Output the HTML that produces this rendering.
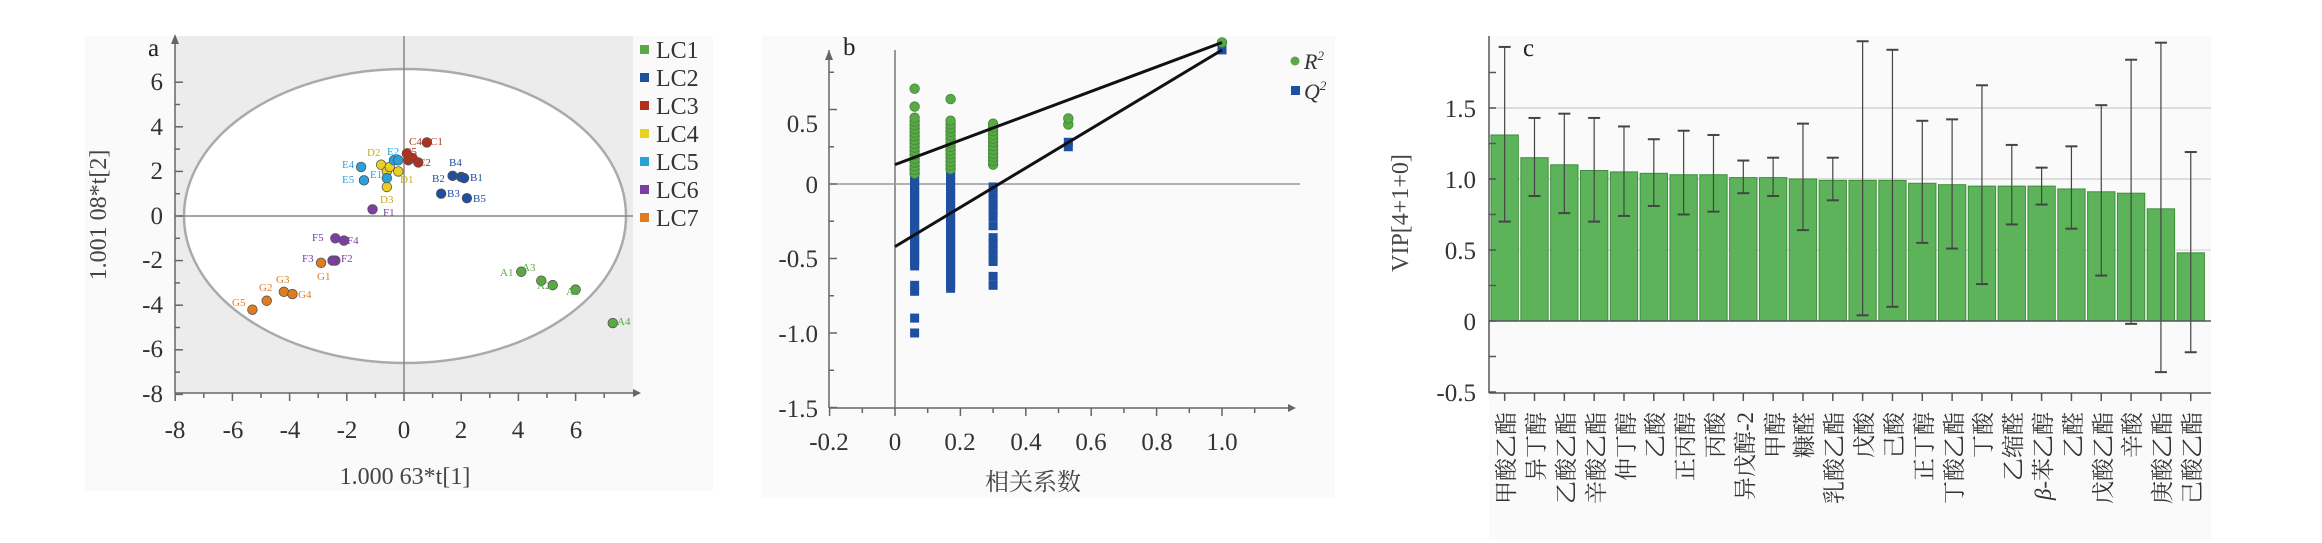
<!DOCTYPE html>
<html><head><meta charset="utf-8">
<style>
html,body{margin:0;padding:0;background:#fff;}
svg{display:block;}
text{font-family:"Liberation Serif","Noto Serif CJK SC",serif;}
</style></head>
<body>
<svg id="s" width="2322" height="543" viewBox="0 0 2322 543" xmlns="http://www.w3.org/2000/svg">
<!-- Panel a -->
<rect x="85" y="36" width="628" height="455" fill="#fafafa"/>
<rect x="175" y="36" width="458" height="357" fill="#ececec"/>
<ellipse cx="405" cy="216" rx="221" ry="147" fill="#fff" stroke="#aaa" stroke-width="2.5"/>
<line x1="175" y1="216" x2="633" y2="216" stroke="#888" stroke-width="1.5"/>
<line x1="404" y1="36" x2="404" y2="393" stroke="#888" stroke-width="1.5"/>
<line x1="175" y1="36" x2="175" y2="393" stroke="#666" stroke-width="1.5"/>
<line x1="175" y1="393" x2="633" y2="393" stroke="#666" stroke-width="1.5"/>
<polygon points="633,389 641,393 633,397" fill="#666"/>
<polygon points="171,44 175,34 179,44" fill="#666"/>
<g id="aticks"></g>
<g font-size="25" fill="#333" text-anchor="end">
<text x="163" y="90">6</text><text x="163" y="135">4</text><text x="163" y="179">2</text><text x="163" y="224">0</text>
<text x="163" y="268">-2</text><text x="163" y="313">-4</text><text x="163" y="357">-6</text><text x="163" y="402">-8</text>
</g>
<g font-size="25" fill="#333" text-anchor="middle">
<text x="175" y="438">-8</text><text x="233" y="438">-6</text><text x="290" y="438">-4</text><text x="347" y="438">-2</text>
<text x="404" y="438">0</text><text x="461" y="438">2</text><text x="518" y="438">4</text><text x="576" y="438">6</text>
</g>
<text x="405" y="484" font-size="24" fill="#444" text-anchor="middle">1.000 63*t[1]</text>
<text transform="translate(106,215) rotate(-90)" font-size="24" fill="#444" text-anchor="middle">1.001 08*t[2]</text>
<text x="148" y="56" font-size="25" fill="#222">a</text>
<g id="apts"></g>
<g font-size="24" fill="#333">
<rect x="640" y="45" width="9" height="9" fill="#5aa846"/><text x="656" y="58">LC1</text>
<rect x="640" y="73" width="9" height="9" fill="#1f4fa0"/><text x="656" y="86">LC2</text>
<rect x="640" y="101" width="9" height="9" fill="#b0301e"/><text x="656" y="114">LC3</text>
<rect x="640" y="129" width="9" height="9" fill="#ecd020"/><text x="656" y="142">LC4</text>
<rect x="640" y="157" width="9" height="9" fill="#2aa0dc"/><text x="656" y="170">LC5</text>
<rect x="640" y="185" width="9" height="9" fill="#7a3fa0"/><text x="656" y="198">LC6</text>
<rect x="640" y="213" width="9" height="9" fill="#e07b20"/><text x="656" y="226">LC7</text>
</g>
<g font-size="11">
<text x="500" y="276" fill="#5aa846">A1</text><text x="522" y="271" fill="#5aa846">A3</text><text x="537" y="289" fill="#5aa846">A2</text><text x="566" y="295" fill="#5aa846">A5</text><text x="617" y="325" fill="#5aa846">A4</text>
<text x="449" y="166" fill="#1f4fa0">B4</text><text x="470" y="181" fill="#1f4fa0">B1</text><text x="432" y="182" fill="#1f4fa0">B2</text><text x="447" y="197" fill="#1f4fa0">B3</text><text x="473" y="202" fill="#1f4fa0">B5</text>
<text x="409" y="145" fill="#b0301e">C4</text><text x="430" y="145" fill="#b0301e">C1</text><text x="418" y="166" fill="#b0301e">C2</text><text x="404" y="155" fill="#b0301e">C5</text>
<text x="367" y="156" fill="#c8a820">D2</text><text x="400" y="183" fill="#c8a820">D1</text><text x="380" y="203" fill="#c8a820">D3</text>
<text x="342" y="168" fill="#2aa0dc">E4</text><text x="342" y="183" fill="#2aa0dc">E5</text><text x="387" y="155" fill="#2aa0dc">E2</text><text x="370" y="178" fill="#2aa0dc">E1</text>
<text x="383" y="216" fill="#7a3fa0">F1</text><text x="312" y="241" fill="#7a3fa0">F5</text><text x="347" y="244" fill="#7a3fa0">F4</text><text x="302" y="262" fill="#7a3fa0">F3</text><text x="341" y="262" fill="#7a3fa0">F2</text>
<text x="317" y="280" fill="#e07b20">G1</text><text x="276" y="283" fill="#e07b20">G3</text><text x="259" y="291" fill="#e07b20">G2</text><text x="298" y="298" fill="#e07b20">G4</text><text x="232" y="306" fill="#e07b20">G5</text>
</g>

<!-- Panel b -->
<rect x="762" y="36" width="573" height="462" fill="#fafafa"/>
<line x1="829" y1="50" x2="829" y2="408" stroke="#666" stroke-width="1.5"/>
<polygon points="825,60 829,50 833,60" fill="#666"/>
<line x1="829" y1="408" x2="1288" y2="408" stroke="#666" stroke-width="1.5"/>
<polygon points="1288,404 1296,408 1288,412" fill="#666"/>
<line x1="895" y1="50" x2="895" y2="408" stroke="#777" stroke-width="1.5"/>
<line x1="829" y1="184" x2="1300" y2="184" stroke="#999" stroke-width="1.5"/>
<g id="bticks"></g>
<g font-size="25" fill="#333" text-anchor="end">
<text x="818" y="132">0.5</text><text x="818" y="193">0</text><text x="818" y="267">-0.5</text><text x="818" y="342">-1.0</text><text x="818" y="417">-1.5</text>
</g>
<g font-size="25" fill="#333" text-anchor="middle">
<text x="829" y="450">-0.2</text><text x="895" y="450">0</text><text x="960" y="450">0.2</text><text x="1026" y="450">0.4</text>
<text x="1091" y="450">0.6</text><text x="1157" y="450">0.8</text><text x="1222" y="450">1.0</text>
</g>
<text x="1033" y="490" font-size="24" fill="#444" text-anchor="middle">相关系数</text>
<text x="843" y="55" font-size="25" fill="#222">b</text>
<g id="bpts"></g>
<line x1="895" y1="164.6" x2="1222" y2="42.5" stroke="#111" stroke-width="3"/>
<line x1="895" y1="246.6" x2="1222" y2="50" stroke="#111" stroke-width="3"/>
<circle cx="1295" cy="61" r="4.5" fill="#5aa846"/><text x="1304" y="69" font-size="22" font-style="italic" fill="#333">R<tspan font-size="13" dy="-9">2</tspan></text>
<rect x="1291" y="86" width="9" height="9" fill="#1f4fa0"/><text x="1304" y="99" font-size="22" font-style="italic" fill="#333">Q<tspan font-size="13" dy="-9">2</tspan></text>

<!-- Panel c -->
<rect x="1489" y="36" width="722" height="504" fill="#fafafa"/>
<line x1="1489" y1="108" x2="2211" y2="108" stroke="#ddd" stroke-width="2"/>
<line x1="1489" y1="179" x2="2211" y2="179" stroke="#ddd" stroke-width="2"/>
<line x1="1489" y1="250" x2="2211" y2="250" stroke="#e6e6e6" stroke-width="2"/>
<g id="bars"></g>
<line x1="1489" y1="321" x2="2211" y2="321" stroke="#555" stroke-width="1.5"/>
<line x1="1489" y1="36" x2="1489" y2="393" stroke="#555" stroke-width="1.5"/>
<line x1="1489" y1="393" x2="2211" y2="393" stroke="#555" stroke-width="1.5"/>
<g id="cticks"></g>
<g font-size="25" fill="#333" text-anchor="end">
<text x="1476" y="117">1.5</text><text x="1476" y="188">1.0</text><text x="1476" y="259">0.5</text><text x="1476" y="330">0</text><text x="1476" y="401">-0.5</text>
</g>
<text transform="translate(1408,213) rotate(-90)" font-size="24" fill="#444" text-anchor="middle">VIP[4+1+0]</text>
<text x="1523" y="56" font-size="25" fill="#222">c</text>
<g font-size="23" fill="#333" text-anchor="end" id="clabels">
<text transform="translate(1514,412) rotate(-90)">甲酸乙酯</text>
<text transform="translate(1544,412) rotate(-90)">异丁醇</text>
<text transform="translate(1574,412) rotate(-90)">乙酸乙酯</text>
<text transform="translate(1604,412) rotate(-90)">辛酸乙酯</text>
<text transform="translate(1634,412) rotate(-90)">仲丁醇</text>
<text transform="translate(1663,412) rotate(-90)">乙酸</text>
<text transform="translate(1693,412) rotate(-90)">正丙醇</text>
<text transform="translate(1723,412) rotate(-90)">丙酸</text>
<text transform="translate(1753,412) rotate(-90)">异戊醇-2</text>
<text transform="translate(1783,412) rotate(-90)">甲醇</text>
<text transform="translate(1812,412) rotate(-90)">糠醛</text>
<text transform="translate(1842,412) rotate(-90)">乳酸乙酯</text>
<text transform="translate(1872,412) rotate(-90)">戊酸</text>
<text transform="translate(1902,412) rotate(-90)">己酸</text>
<text transform="translate(1932,412) rotate(-90)">正丁醇</text>
<text transform="translate(1962,412) rotate(-90)">丁酸乙酯</text>
<text transform="translate(1991,412) rotate(-90)">丁酸</text>
<text transform="translate(2021,412) rotate(-90)">乙缩醛</text>
<text transform="translate(2051,412) rotate(-90)"><tspan font-style="italic">β</tspan>-苯乙醇</text>
<text transform="translate(2081,412) rotate(-90)">乙醛</text>
<text transform="translate(2111,412) rotate(-90)">戊酸乙酯</text>
<text transform="translate(2140,412) rotate(-90)">辛酸</text>
<text transform="translate(2170,412) rotate(-90)">庚酸乙酯</text>
<text transform="translate(2200,412) rotate(-90)">己酸乙酯</text>
</g>
</svg>
<script>
var NS="http://www.w3.org/2000/svg";
function el(p,t,a){var e=document.createElementNS(NS,t);for(var k in a)e.setAttribute(k,a[k]);document.getElementById(p).appendChild(e);return e;}
for(var v=-8;v<=6;v+=1){var y=216-22.3*v;el("aticks","line",{x1:175,y1:y,x2:v%2==0?183:180,y2:y,stroke:"#666","stroke-width":1.5});}
for(var v=-8;v<=7;v+=1){var x=404+28.6*v;el("aticks","line",{x1:x,y1:393,x2:x,y2:v%2==0?401:398,stroke:"#666","stroke-width":1.5});}
var pts={"#5aa846":[[4.1,-2.5],[4.8,-2.9],[5.2,-3.1],[6.0,-3.3],[7.3,-4.8]],
"#1f4fa0":[[1.7,1.8],[2.0,1.75],[2.1,1.7],[1.3,1.0],[2.2,0.8]],
"#b0301e":[[0.8,3.3],[0.1,2.8],[0.15,2.5],[0.5,2.4],[0.3,2.6]],
"#ecd020":[[-0.8,2.3],[-0.6,2.0],[-0.2,2.0],[-0.6,1.3],[-0.5,2.2]],
"#2aa0dc":[[-1.5,2.2],[-1.4,1.6],[-0.6,1.7],[-0.35,2.5],[-0.2,2.5]],
"#7a3fa0":[[-1.1,0.3],[-2.4,-1.0],[-2.1,-1.1],[-2.4,-2.0],[-2.5,-2.0]],
"#e07b20":[[-2.9,-2.1],[-4.2,-3.4],[-3.9,-3.5],[-4.8,-3.8],[-5.3,-4.2]]};
for(var c in pts)pts[c].forEach(function(p){el("apts","circle",{cx:404+28.6*p[0],cy:216-22.3*p[1],r:4.8,fill:c,stroke:"#555","stroke-width":0.8});});
function bx(v){return 895+327*v;} function by(v){return 184-149*v;}
for(var i=-2;i<=11;i++){var x=bx(i*0.1);el("bticks","line",{x1:x,y1:408,x2:x,y2:i%2==0?416:413,stroke:"#666","stroke-width":1.5});}
for(var v=-1.5;v<=0.9;v+=0.25){var y=by(v);el("bticks","line",{x1:829,y1:y,x2:Math.round(v*4)%2==0?837:834,y2:y,stroke:"#666","stroke-width":1.5});}
function sq(x,v){el("bpts","rect",{x:bx(x)-4.5,y:by(v)-4.5,width:9,height:9,fill:"#1f4fa0"});}
function ci(x,v){el("bpts","circle",{cx:bx(x),cy:by(v),r:4.8,fill:"#5aa846",stroke:"#3d8a35","stroke-width":0.8});}
for(var v=-0.55;v<=0.3;v+=0.02)sq(0.06,v);[-0.68,-0.72,-0.9,-1.0].forEach(function(v){sq(0.06,v)});
for(var v=-0.7;v<=0.35;v+=0.02)sq(0.17,v);
[-0.02,-0.06,-0.1,-0.14,-0.18,-0.22,-0.28,-0.36,-0.4,-0.44,-0.48,-0.52,-0.62,-0.68].forEach(function(v){sq(0.3,v)});
sq(0.53,0.25);sq(0.53,0.28);sq(1.0,0.9);
for(var v=0.07;v<=0.47;v+=0.025)ci(0.06,v);ci(0.06,0.52);ci(0.06,0.64);
for(var v=0.1;v<=0.44;v+=0.025)ci(0.17,v);ci(0.17,0.57);
for(var v=0.13;v<=0.43;v+=0.025)ci(0.3,v);
ci(0.53,0.4);ci(0.53,0.44);ci(1.0,0.95);
var vals=[1.31,1.15,1.10,1.06,1.05,1.04,1.03,1.03,1.01,1.01,1.00,0.99,0.99,0.99,0.97,0.96,0.95,0.95,0.95,0.93,0.91,0.90,0.79,0.48];
var err=[[0.70,1.93],[0.88,1.43],[0.76,1.46],[0.70,1.43],[0.74,1.37],[0.81,1.28],[0.75,1.34],[0.77,1.31],[0.90,1.13],[0.88,1.15],[0.64,1.39],[0.85,1.15],[0.04,1.97],[0.10,1.91],[0.55,1.41],[0.51,1.42],[0.26,1.66],[0.68,1.24],[0.82,1.08],[0.65,1.23],[0.32,1.52],[-0.02,1.84],[-0.36,1.96],[-0.22,1.19]];
function cy(v){return 321-142*v;}
var w=29.83;
for(var i=0;i<24;i++){var x=1491+i*w;
el("bars","rect",{x:x,y:cy(vals[i]),width:w-2.5,height:321-cy(vals[i]),fill:"#5cb35a",stroke:"#3f8f3d","stroke-width":1});
var c=x+(w-2.5)/2;
el("bars","line",{x1:c,y1:cy(err[i][0]),x2:c,y2:cy(err[i][1]),stroke:"#444","stroke-width":1.2});
el("bars","line",{x1:c-6,y1:cy(err[i][0]),x2:c+6,y2:cy(err[i][0]),stroke:"#444","stroke-width":2});
el("bars","line",{x1:c-6,y1:cy(err[i][1]),x2:c+6,y2:cy(err[i][1]),stroke:"#444","stroke-width":2});
el("cticks","line",{x1:c,y1:393,x2:c,y2:401,stroke:"#555","stroke-width":1.5});}
for(var v=-0.5;v<=1.75;v+=0.25){var y=cy(v);el("cticks","line",{x1:1489,y1:y,x2:1496,y2:y,stroke:"#555","stroke-width":1.5});}
</script>
</body></html>
